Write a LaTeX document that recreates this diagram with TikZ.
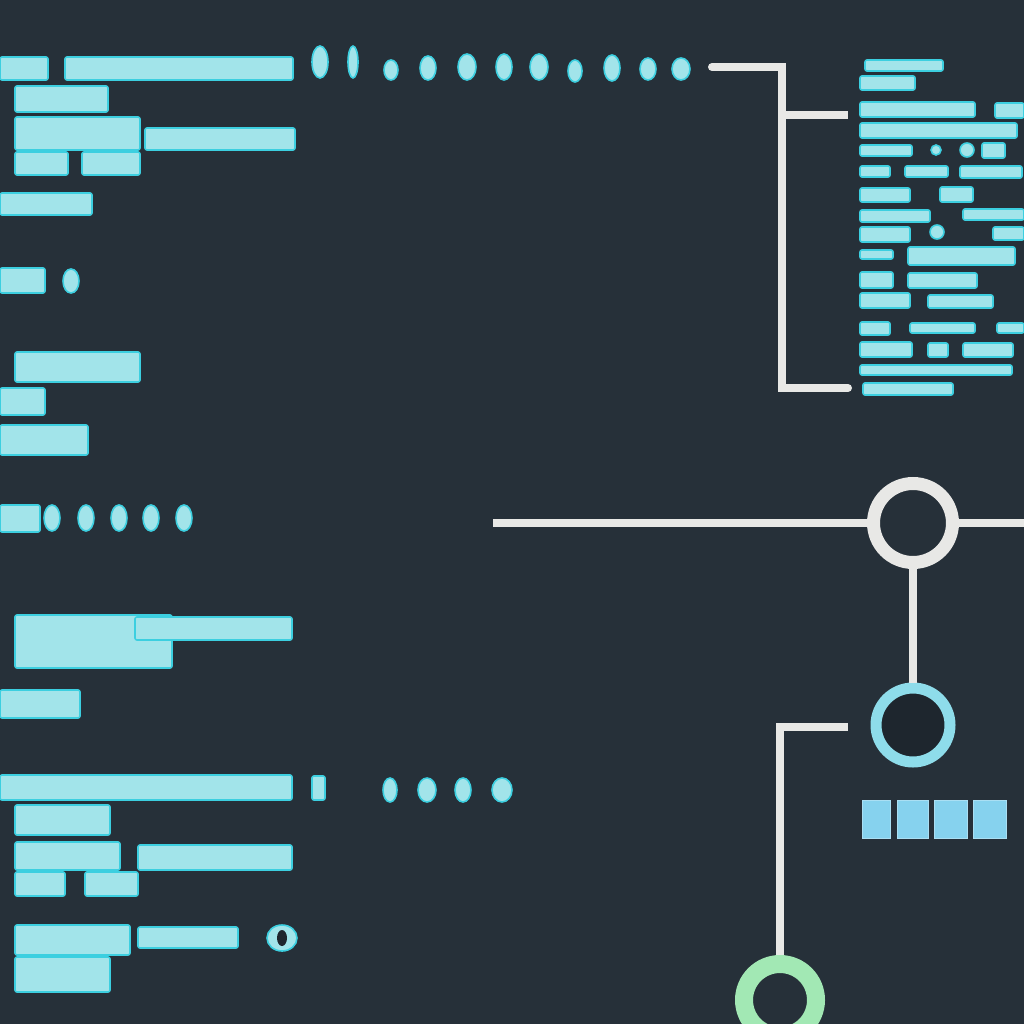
\documentclass[tikz,border=0pt]{standalone}
\usetikzlibrary{calc}
\definecolor{bgc}{HTML}{263039}
\definecolor{txtf}{HTML}{A2E4EA}
\definecolor{txtd}{HTML}{3CCFE0}
\definecolor{wire}{HTML}{E8E8E6}
\definecolor{ringc}{HTML}{8EDCEA}
\definecolor{ringg}{HTML}{A2E8B4}
\definecolor{sq}{HTML}{86D2EE}
\definecolor{holec}{HTML}{1E262E}
\tikzset{
  txt/.style={fill=txtf, draw=txtd, line width=1.6pt, rounded corners=2pt},
  glyph/.style={fill=txtf, draw=txtd, line width=1.6pt},
  wireline/.style={draw=wire, line width=8pt},
  whitering/.style={circle, draw=wire, line width=13pt, minimum size=79pt, inner sep=0pt, fill=bgc},
  cyanring/.style={circle, draw=ringc, line width=11pt, minimum size=74pt, inner sep=0pt, fill=holec},
  greenring/.style={circle, draw=ringg, line width=18pt, minimum size=72pt, inner sep=0pt, fill=bgc},
  sqbox/.style={fill=sq, draw=sq!70!white, line width=1pt}
}
\begin{document}
\begin{tikzpicture}[x=1pt,y=-1pt]
\fill[bgc] (0,0) rectangle (1024,1024);
\useasboundingbox (0,0) rectangle (1024,1024);

% ---------- left text blocks ----------
\foreach \a/\b/\c/\d in {
  0/57/48/80, 65/57/293/80,
  15/86/108/112,
  15/117/140/150, 145/128/295/150,
  15/152/68/175, 82/152/140/175,
  0/193/92/215,
  0/268/45/293,
  15/352/140/382,
  0/388/45/415,
  0/425/88/455,
  0/505/40/532,
  15/615/172/668, 135/617/292/640,
  0/690/80/718,
  0/775/292/800, 312/776/325/800,
  15/805/110/835,
  15/842/120/870, 138/845/292/870,
  15/872/65/896, 85/872/138/896,
  15/925/130/955, 138/927/238/948,
  15/957/110/992}
  \draw[txt] (\a,\b) rectangle (\c,\d);

% glyph-like ovals
\foreach \x/\y/\rx/\ry in {
  320/62/8/16, 353/62/5/16, 391/70/7/10, 428/68/8/12, 467/67/9/13,
  504/67/8/13, 539/67/9/13, 575/71/7/11, 612/68/8/13, 648/69/8/11, 681/69/9/11,
  71/281/8/12,
  52/518/8/13, 86/518/8/13, 119/518/8/13, 151/518/8/13, 184/518/8/13,
  390/790/7/12, 427/790/9/12, 463/790/8/12, 502/790/10/12}
  \draw[glyph] (\x,\y) ellipse [x radius=\rx, y radius=\ry];
\draw[glyph] (282,938) ellipse [x radius=15, y radius=13];
\fill[holec] (282,938) ellipse [x radius=5, y radius=8];

% ---------- right text column ----------
\foreach \a/\b/\c/\d in {
  865/60/943/71,
  860/76/915/90,
  860/102/975/117, 995/103/1024/118,
  860/123/1017/138,
  860/145/912/156, 982/143/1005/158,
  860/166/890/177, 905/166/948/177, 960/166/1022/178,
  860/188/910/202, 940/187/973/202,
  860/210/930/222, 963/209/1024/220,
  860/227/910/242, 993/227/1024/240,
  860/250/893/259, 908/247/1015/265,
  860/272/893/288, 908/273/977/288,
  860/293/910/308, 928/295/993/308,
  860/322/890/335, 910/323/975/333, 997/323/1024/333,
  860/342/912/357, 928/343/948/357, 963/343/1013/357,
  860/365/1012/375,
  863/383/953/395}
  \draw[txt] (\a,\b) rectangle (\c,\d);
\draw[glyph] (936,150) circle [radius=5];
\draw[glyph] (967,150) circle [radius=7];
\draw[glyph] (937,232) circle [radius=7];

% ---------- top-right bracket ----------
\coordinate (b0) at (712,67);
\coordinate (b1) at (782,67);
\coordinate (b2) at (782,115);
\coordinate (b3) at (848,115);
\coordinate (b4) at (782,388);
\coordinate (b5) at (848,388);
\draw[wireline, line cap=round] (b0) -- (b1) -- (b4) -- (b5);
\draw[wireline] (b2) -- (b3);

% ---------- lower-right network ----------
\node[whitering] (n1) at (913,523) {};
\node[cyanring] (n2) at (913,725) {};
\node[greenring] (n3) at (780,1000) {};
\coordinate (h0) at (493,523);
\coordinate (h1) at (1024,523);
\coordinate (l0) at (848,727);
\coordinate (l1) at (780,727);
\draw[wireline] (h0) -- (n1.west);
\draw[wireline] (n1.east) -- (h1);
\draw[wireline] (n1.south) -- (n2.north);
\draw[wireline] (l0) -- (l1) -- (n3.north);

% blue squares
\foreach \a/\c in {862/890, 897/928, 934/967, 973/1006}
  \draw[sqbox] (\a,800) rectangle (\c,838);
\end{tikzpicture}
\end{document}
